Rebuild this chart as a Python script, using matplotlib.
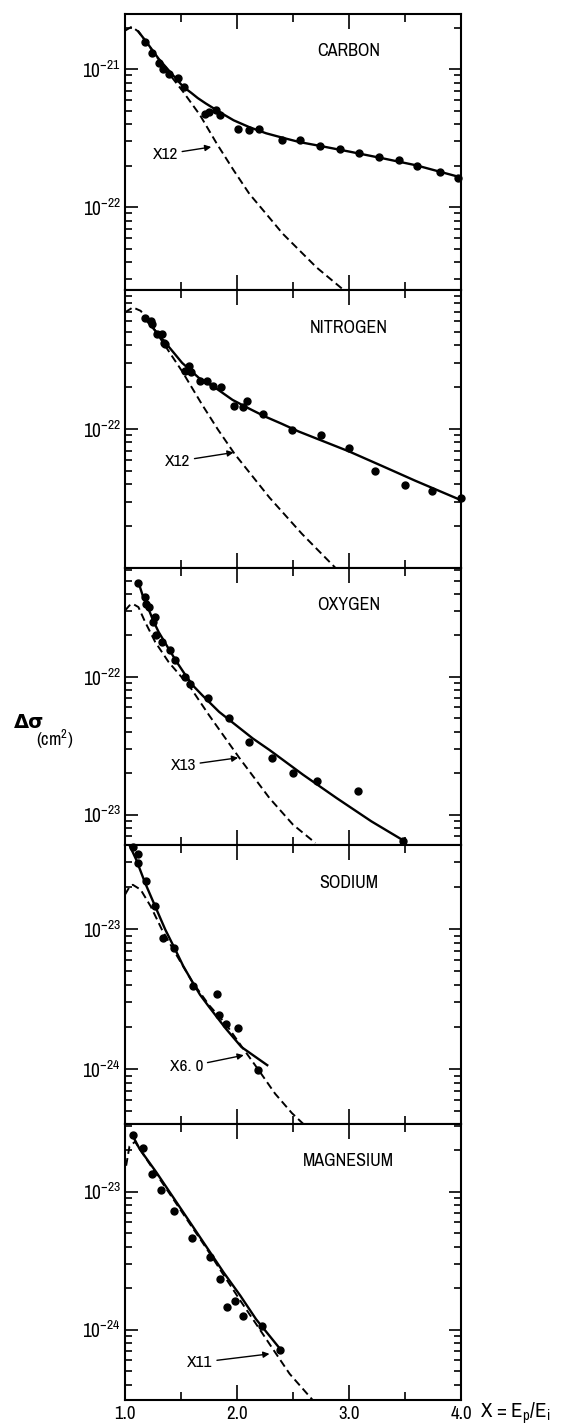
import numpy as np
from matplotlib import pyplot as plt
from matplotlib import font_manager
from matplotlib.ticker import MultipleLocator, LogLocator, NullFormatter, FixedLocator

# --- data (x = Ep/Ei, y = delta sigma in cm^2) ---
carbon_x = [1.18, 1.24, 1.30, 1.34, 1.39, 1.47, 1.53, 1.71, 1.75, 1.81, 1.85, 2.01, 2.11, 2.20,
            2.40, 2.56, 2.74, 2.92, 3.09, 3.27, 3.45, 3.61, 3.81, 3.97]
carbon_y = [1.58e-21, 1.30e-21, 1.11e-21, 1.01e-21, 9.3e-22, 8.7e-22, 7.4e-22, 4.76e-22, 4.9e-22,
            5.1e-22, 4.69e-22, 3.7e-22, 3.6e-22, 3.7e-22, 3.05e-22, 3.05e-22, 2.76e-22, 2.64e-22,
            2.47e-22, 2.31e-22, 2.18e-22, 1.99e-22, 1.80e-22, 1.62e-22]
carbon_fit_x = [1.12, 1.19, 1.30, 1.40, 1.52, 1.59, 1.65, 1.72, 1.79, 1.88, 1.97, 2.11, 2.26, 2.41,
                2.56, 2.75, 3.00, 3.30, 3.60, 3.99]
carbon_fit_y = [1.87e-21, 1.58e-21, 1.19e-21, 9.6e-22, 7.45e-22, 6.75e-22, 6.17e-22, 5.65e-22,
                5.21e-22, 4.7e-22, 4.26e-22, 3.8e-22, 3.43e-22, 3.18e-22, 2.96e-22, 2.77e-22,
                2.53e-22, 2.26e-22, 2.01e-22, 1.65e-22]
carbon_dash_x = [1.00, 1.06, 1.12, 1.22, 1.37, 1.52, 1.67, 1.82, 1.97, 2.11, 2.26, 2.41, 2.56, 2.71, 2.96]
carbon_dash_y = [1.9e-21, 2.03e-21, 1.87e-21, 1.45e-21, 9.8e-22, 6.84e-22, 4.64e-22, 2.88e-22, 1.85e-22,
                 1.25e-22, 8.95e-23, 6.4e-23, 4.84e-23, 3.66e-23, 2.48e-23]

nitrogen_x = [1.18, 1.23, 1.24, 1.29, 1.33, 1.35, 1.36, 1.57, 1.54, 1.59, 1.67, 1.73, 1.79, 1.86,
              1.97, 2.05, 2.09, 2.23, 2.49, 2.75, 3.00, 3.23, 3.50, 3.74, 4.00]
nitrogen_y = [6.34e-22, 6.0e-22, 5.67e-22, 4.8e-22, 4.8e-22, 4.18e-22, 4.06e-22, 2.86e-22, 2.6e-22,
              2.57e-22, 2.23e-22, 2.23e-22, 2.03e-22, 2.0e-22, 1.47e-22, 1.45e-22, 1.6e-22, 1.29e-22,
              9.8e-23, 9.05e-23, 7.25e-23, 4.96e-23, 3.97e-23, 3.61e-23, 3.18e-23]
nitrogen_fit_x = [1.17, 1.27, 1.36, 1.44, 1.51, 1.59, 1.66, 1.74, 1.81, 1.96, 2.11, 2.25, 2.40,
                  2.55, 2.70, 3.00, 3.30, 3.59, 3.97]
nitrogen_fit_y = [6.34e-22, 5.1e-22, 4.18e-22, 3.5e-22, 2.99e-22, 2.62e-22, 2.33e-22, 2.13e-22,
                  1.97e-22, 1.62e-22, 1.40e-22, 1.23e-22, 1.09e-22, 9.6e-23, 8.6e-23, 6.9e-23,
                  5.4e-23, 4.25e-23, 3.15e-23]
nitrogen_dash_x = [1.00, 1.07, 1.14, 1.21, 1.36, 1.51, 1.69, 1.83, 1.98, 2.29, 2.58, 2.88]
nitrogen_dash_y = [6.9e-22, 7.5e-22, 7.08e-22, 6.0e-22, 3.95e-22, 2.6e-22, 1.49e-22, 9.9e-23,
                   6.6e-23, 3.21e-23, 1.76e-23, 1.0e-23]

oxygen_x = [1.12, 1.18, 1.19, 1.21, 1.27, 1.25, 1.28, 1.33, 1.40, 1.45, 1.54, 1.58, 1.74, 1.93,
            2.11, 2.31, 2.50, 2.71, 3.08, 3.48]
oxygen_y = [4.79e-22, 3.78e-22, 3.39e-22, 3.21e-22, 2.72e-22, 2.50e-22, 2.0e-22, 1.79e-22, 1.56e-22,
            1.32e-22, 1.0e-22, 8.95e-23, 7.05e-23, 5.06e-23, 3.35e-23, 2.59e-23, 2.0e-23, 1.76e-23,
            1.49e-23, 6.5e-24]
oxygen_fit_x = [1.12, 1.16, 1.21, 1.25, 1.30, 1.39, 1.46, 1.54, 1.61, 1.69, 1.84, 1.99, 2.14,
                2.29, 2.59, 2.89, 3.20, 3.50]
oxygen_fit_y = [4.86e-22, 3.85e-22, 3.12e-22, 2.58e-22, 2.12e-22, 1.60e-22, 1.29e-22, 1.03e-22,
                8.6e-23, 7.36e-23, 5.58e-23, 4.47e-23, 3.58e-23, 2.95e-23, 1.95e-23, 1.32e-23,
                8.95e-24, 6.4e-24]
oxygen_dash_x = [1.00, 1.04, 1.07, 1.12, 1.18, 1.27, 1.39, 1.58, 1.75, 2.02, 2.29, 2.50, 2.70]
oxygen_dash_y = [3.03e-22, 3.3e-22, 3.39e-22, 3.21e-22, 2.5e-22, 1.79e-22, 1.28e-22, 8.47e-23,
                 5.28e-23, 2.59e-23, 1.32e-23, 8.47e-24, 6.24e-24]

sodium_x = [1.07, 1.12, 1.12, 1.19, 1.27, 1.34, 1.44, 1.61, 1.82, 1.84, 1.90, 2.01, 2.19]
sodium_y = [3.87e-23, 3.41e-23, 2.94e-23, 2.19e-23, 1.47e-23, 8.62e-24, 7.31e-24, 3.95e-24,
            3.43e-24, 2.44e-24, 2.09e-24, 1.96e-24, 9.95e-25]
sodium_fit_x = [1.03, 1.10, 1.18, 1.27, 1.36, 1.45, 1.52, 1.60, 1.67, 1.75, 1.90, 2.04, 2.27]
sodium_fit_y = [4.13e-23, 3.13e-23, 2.13e-23, 1.45e-23, 9.9e-24, 7.11e-24, 5.45e-24, 4.22e-24,
                3.4e-24, 2.79e-24, 1.95e-24, 1.44e-24, 1.07e-24]
sodium_dash_x = [1.00, 1.04, 1.07, 1.14, 1.23, 1.33, 1.45, 1.60, 1.75, 1.90, 2.04, 2.19, 2.34, 2.49, 2.59]
sodium_dash_y = [1.76e-23, 2.0e-23, 2.07e-23, 1.91e-23, 1.45e-23, 9.9e-24, 6.73e-24, 4.22e-24,
                 2.87e-24, 2.1e-24, 1.46e-24, 9.95e-25, 6.7e-25, 4.87e-25, 4.09e-25]

magnesium_x = [1.07, 1.16, 1.24, 1.32, 1.44, 1.60, 1.76, 1.85, 1.91, 1.98, 2.05, 2.22, 2.38]
magnesium_y = [2.58e-23, 2.06e-23, 1.34e-23, 1.03e-23, 7.28e-24, 4.61e-24, 3.34e-24, 2.33e-24,
               1.47e-24, 1.62e-24, 1.26e-24, 1.07e-24, 7.16e-25]
magnesium_fit_x = [1.06, 1.13, 1.28, 1.43, 1.58, 1.73, 1.88, 2.03, 2.17, 2.39]
magnesium_fit_y = [2.62e-23, 2.04e-23, 1.38e-23, 9.1e-24, 6.0e-24, 3.95e-24, 2.6e-24, 1.76e-24,
                   1.19e-24, 7.16e-25]
magnesium_dash_x = [1.01, 1.04, 1.09, 1.16, 1.28, 1.43, 1.58, 1.73, 1.88, 2.03, 2.17, 2.32, 2.47, 2.68]
magnesium_dash_y = [1.54e-23, 2.13e-23, 2.3e-23, 1.88e-23, 1.34e-23, 8.85e-24, 5.83e-24, 3.85e-24,
                    2.49e-24, 1.62e-24, 1.1e-24, 7.24e-25, 4.78e-25, 3.06e-25]

element_names = ["CARBON", "NITROGEN", "OXYGEN", "SODIUM", "MAGNESIUM"]
scale_labels = ["X12", "X12", "X13", "X6. 0", "X11"]
# (text x, text y, arrow tip x, arrow tip y)
scale_arrows = [(1.36, 2.42e-22, 1.77, 2.73e-22),
                (1.47, 5.86e-23, 1.97, 6.78e-23),
                (1.52, 2.28e-23, 2.01, 2.59e-23),
                (1.55, 1.04e-24, 2.06, 1.26e-24),
                (1.67, 5.79e-25, 2.29, 6.67e-25)]
y_limits = [(2.51e-23, 2.51e-21), (1e-23, 1e-21), (6.03e-24, 6.17e-22),
            (4.07e-25, 3.98e-23), (3.09e-25, 3.09e-23)]
y_labels = [[-21, -22], [-22], [-22, -23], [-23, -24], [-23, -24]]
x_ticks = [1.0, 2.0, 3.0, 4.0]

points = [(carbon_x, carbon_y), (nitrogen_x, nitrogen_y), (oxygen_x, oxygen_y),
          (sodium_x, sodium_y), (magnesium_x, magnesium_y)]
fits = [(carbon_fit_x, carbon_fit_y), (nitrogen_fit_x, nitrogen_fit_y), (oxygen_fit_x, oxygen_fit_y),
        (sodium_fit_x, sodium_fit_y), (magnesium_fit_x, magnesium_fit_y)]
dashes = [(carbon_dash_x, carbon_dash_y), (nitrogen_dash_x, nitrogen_dash_y),
          (oxygen_dash_x, oxygen_dash_y), (sodium_dash_x, sodium_dash_y),
          (magnesium_dash_x, magnesium_dash_y)]

# look for a narrow/condensed face, the scan's lettering is quite narrow
FONT = "Liberation Sans"
STRETCH = "normal"
for f in font_manager.fontManager.ttflist:
    if "Narrow" in f.name or "Condensed" in f.name:
        FONT = f.name
        break
else:
    for f in font_manager.fontManager.ttflist:
        if f.name in ("DejaVu Sans", "Open Sans", "Roboto", "Noto Sans") and \
                str(f.stretch) in ("condensed", "semi-condensed", "75", "87"):
            FONT, STRETCH = f.name, "condensed"
            break
plt.rcParams["font.family"] = [FONT, "DejaVu Sans"]
plt.rcParams["font.stretch"] = STRETCH
plt.rcParams["mathtext.fontset"] = "custom"
plt.rcParams["mathtext.rm"] = FONT
plt.rcParams["mathtext.it"] = FONT + ":italic"
plt.rcParams["mathtext.bf"] = FONT + ":bold"

W, H = 569, 1424
fig = plt.figure(figsize=(W / 100, H / 100), dpi=100)
left, right = 125, 461
edges = [14, 290, 568, 845, 1124, 1400]

for i in range(5):
    top, bot = edges[i], edges[i + 1]
    ax = fig.add_axes([left / W, 1 - bot / H, (right - left) / W, (bot - top) / H])
    ax.set_yscale("log")
    ax.set_xlim(1.0, 4.0)
    ax.set_ylim(*y_limits[i])

    fx, fy = fits[i]
    ax.plot(fx, fy, "-", color="k", lw=1.7)
    dx, dy = dashes[i]
    ax.plot(dx, dy, "--", color="k", lw=1.4, dashes=(4, 2.2))
    px, py = points[i]
    ax.plot(px, py, "o", color="k", ms=5, clip_on=False, zorder=3)

    ax.text(0.665, 0.865, element_names[i], transform=ax.transAxes,
            ha="center", va="center", fontsize=13)
    tx, ty, ax_, ay_ = scale_arrows[i]
    ax.annotate(scale_labels[i], xy=(ax_, ay_), xytext=(tx, ty), fontsize=12.5,
                ha="center", va="center",
                arrowprops=dict(arrowstyle="-|>", color="k", lw=1.0,
                                mutation_scale=9, shrinkA=1, shrinkB=0))

    # ticks
    ax.xaxis.set_major_locator(FixedLocator(x_ticks))
    ax.xaxis.set_minor_locator(MultipleLocator(0.5))
    ax.yaxis.set_major_locator(FixedLocator([10.0 ** e for e in y_labels[i]]))
    ax.set_yticklabels(["$10^{%d}$" % e for e in y_labels[i]])
    ax.yaxis.set_minor_locator(LogLocator(base=10, subs=np.arange(2, 10), numticks=30))
    ax.yaxis.set_minor_formatter(NullFormatter())
    ax.tick_params(axis="both", which="both", direction="in", top=True, right=True, width=1.2)
    ax.tick_params(axis="x", which="major", length=11)
    ax.tick_params(axis="x", which="minor", length=6)
    ax.tick_params(axis="y", which="major", length=9, labelsize=14, pad=3)
    ax.tick_params(axis="y", which="minor", length=5)
    for sp in ax.spines.values():
        sp.set_linewidth(1.5)

    if i < 4:
        ax.tick_params(axis="x", labelbottom=False)
    else:
        ax.set_xticklabels(["%.1f" % v for v in x_ticks], fontsize=13.5, fontweight="bold")
        ax.tick_params(axis="x", pad=4)

fig.text(29 / W, 1 - 722 / H, "Δσ", fontsize=14, fontweight="bold", ha="center", va="center",
         family=["DejaVu Sans"])
fig.text(55 / W, 1 - 739 / H, "(cm$^2$)", fontsize=13, ha="center", va="center")
fig.text(480 / W, 1 - 1413 / H, r"X = E$_\mathrm{p}$/E$_\mathrm{i}$", fontsize=15,
         ha="left", va="center")

fig.savefig("out.png", dpi=100)
